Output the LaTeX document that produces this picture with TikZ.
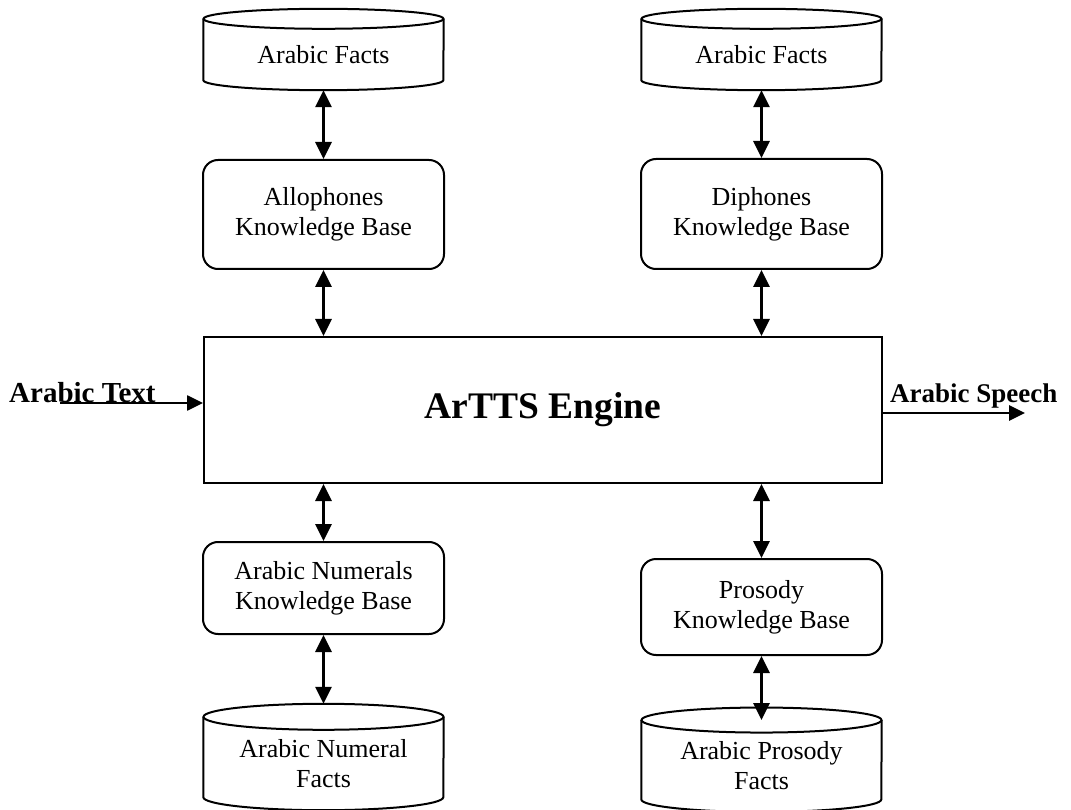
\documentclass[tikz,border=0pt]{standalone}
\usepackage{fontspec}
\setmainfont{Liberation Serif}
\usetikzlibrary{arrows.meta,calc}
% outline of a data store: top ellipse centred on the node's north anchor,
% straight sides, and a lower half ellipse ending at the node's south anchor
\newcommand\storeoutline[3]{%
  \draw[line width=2pt] (#1.north west) -- ($(#1.south west)+(0,#3)$)
    arc[start angle=180,end angle=360,x radius=#2,y radius=#3] -- (#1.north east);
  \draw[line width=2pt] (#1.north) ellipse[x radius=#2,y radius=#3];}
\begin{document}
\begin{tikzpicture}[x=1pt,y=1pt,
  kb/.style={draw,line width=2pt,rounded corners=15pt,minimum width=241pt,
    align=center,font=\fontsize{26}{30}\selectfont,inner sep=0pt},
  store/.style={minimum width=240pt,align=center,
    font=\fontsize{26}{30}\selectfont,inner sep=0pt},
  engine/.style={draw,line width=2pt,minimum width=678pt,minimum height=146pt,
    font=\bfseries\fontsize{37.5}{44}\selectfont,inner sep=0pt},
  link/.style={line width=2.8pt,
    {Triangle[length=17pt,width=16pt]}-{Triangle[length=17pt,width=16pt]}},
  flow/.style={line width=2.6pt,-{Triangle[length=16pt,width=15pt]}},
  io/.style={font=\bfseries\fontsize{29}{34}\selectfont,inner sep=0pt,anchor=base west}
]
\useasboundingbox (0,0) rectangle (1071,-810);

% knowledge bases and engine
\node[kb,minimum height=109pt] (allo) at (323.5,-214.5) {Allophones\\Knowledge Base};
\node[kb,minimum height=110pt] (diph) at (761.5,-214) {Diphones\\Knowledge Base};
\node[engine] (engine) at (543,-410) {ArTTS Engine};
\node[kb,minimum height=92pt] (num) at (323.5,-588) {Arabic Numerals\\Knowledge Base};
\node[kb,minimum height=96pt] (pros) at (761.5,-607) {Prosody\\Knowledge Base};

% fact stores
\node[store,minimum height=71pt] (fa1) at (323.5,-54.5) {Arabic Facts};
\storeoutline{fa1}{120pt}{10pt}
\node[store,minimum height=71pt] (fa2) at (761.5,-54.5) {Arabic Facts};
\storeoutline{fa2}{120pt}{10pt}
\node[store,minimum height=93pt] (nf) at (323.5,-763.5) {Arabic Numeral\\Facts};
\storeoutline{nf}{120pt}{13pt}
\node[store,minimum height=91.5pt] (pf) at (761.5,-766) {Arabic Prosody\\Facts};
\storeoutline{pf}{120pt}{12.5pt}

% two-way links
\draw[link] (fa1.south) -- (allo.north);
\draw[link] (allo.south) -- (allo.south |- engine.north);
\draw[link] (engine.south -| num.north) -- (num.north);
\draw[link] (num.south) -- ($(nf.north)+(0,13)$);
\draw[link] (fa2.south) -- (diph.north);
\draw[link] (diph.south) -- (diph.south |- engine.north);
\draw[link] (engine.south -| pros.north) -- (pros.north);
\draw[link] (pros.south) -- (pf.north);

% input and output
\node[io] (txt) at (9,-402) {Arabic Text};
\coordinate (in) at (60,-403);
\draw[flow] (in) -- (in -| engine.west);
\node[io,font=\bfseries\fontsize{27}{32}\selectfont] (speech) at (890,-402) {Arabic Speech};
\coordinate (out) at (1025,-413);
\draw[flow] (out -| engine.east) -- (out);
\end{tikzpicture}
\end{document}
